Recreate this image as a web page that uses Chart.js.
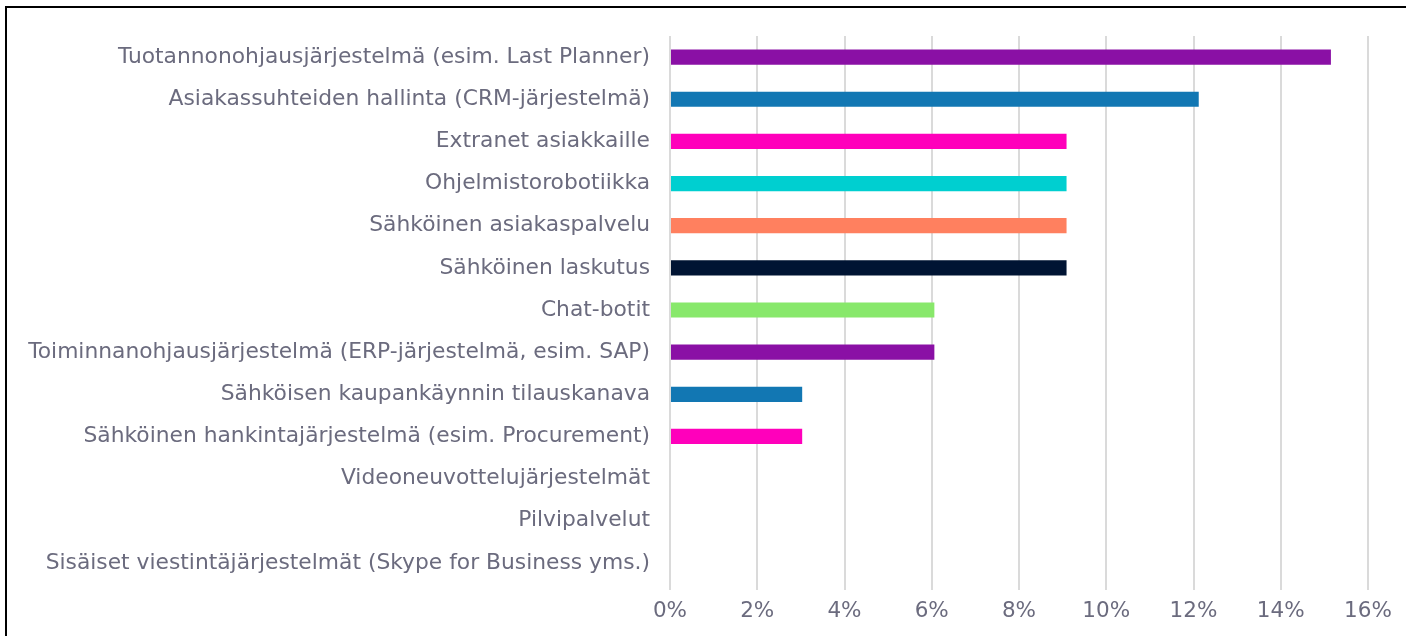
<!DOCTYPE html>
<html>
<head>
<meta charset="utf-8">
<script src="https://cdn.jsdelivr.net/npm/chart.js@4/dist/chart.umd.min.js"></script>
<style>
html,body{margin:0;padding:0;background:#fff;overflow:hidden;}
#wrap{position:relative;width:1406px;height:636px;}
#frame{position:absolute;left:5px;top:6px;width:1500px;height:700px;border:2px solid #000;box-sizing:border-box;pointer-events:none;}
canvas{position:absolute;left:0;top:0;}
</style>
</head>
<body>
<div id="wrap">
<canvas id="c" width="1406" height="636"></canvas>
<div id="frame"></div>
</div>
<script>
const categories = [
  "Tuotannonohjausjärjestelmä (esim. Last Planner)",
  "Asiakassuhteiden hallinta (CRM-järjestelmä)",
  "Extranet asiakkaille",
  "Ohjelmistorobotiikka",
  "Sähköinen asiakaspalvelu",
  "Sähköinen laskutus",
  "Chat-botit",
  "Toiminnanohjausjärjestelmä (ERP-järjestelmä, esim. SAP)",
  "Sähköisen kaupankäynnin tilauskanava",
  "Sähköinen hankintajärjestelmä (esim. Procurement)",
  "Videoneuvottelujärjestelmät",
  "Pilvipalvelut",
  "Sisäiset viestintäjärjestelmät (Skype for Business yms.)"
];
const values = [15.15, 12.12, 9.09, 9.09, 9.09, 9.09, 6.06, 6.06, 3.03, 3.03, 0, 0, 0];
const barColors = ["#8A10A5","#1277B3","#FF00BB","#00CFD0","#FF805F","#001433","#88E86B","#8A10A5","#1277B3","#FF00BB","#8A10A5","#1277B3","#FF00BB"];
const xTickValues = [0, 2, 4, 6, 8, 10, 12, 14, 16];

const textColor = "#6B6B7E";
const fontFam = "'DejaVu Sans', Verdana, sans-serif";

new Chart(document.getElementById('c'), {
  type: 'bar',
  data: {
    labels: categories,
    datasets: [{
      data: values,
      backgroundColor: barColors,
      barPercentage: 0.36,
      categoryPercentage: 1.0,
      borderWidth: 0
    }]
  },
  options: {
    indexAxis: 'y',
    responsive: false,
    animation: false,
    layout: { padding: { left: 0, right: 38, top: 36, bottom: 0 } },
    plugins: { legend: { display: false }, tooltip: { enabled: false } },
    scales: {
      x: {
        min: 0, max: 16,
        afterBuildTicks: (s) => { s.ticks = xTickValues.map(v => ({ value: v })); },
        grid: { color: "#DADADA", lineWidth: 2, drawTicks: true, tickLength: 6, tickColor: "#DADADA" },
        border: { display: false },
        ticks: {
          callback: (v) => v + "%",
          color: textColor,
          font: { family: fontFam, size: 21.5 },
          padding: 9,
          maxRotation: 0
        },
        afterFit: (s) => { s.height = 52; }
      },
      y: {
        grid: { display: false, drawTicks: false },
        border: { display: false },
        ticks: {
          color: textColor,
          font: { family: fontFam, size: 21.8 },
          padding: 20,
          autoSkip: false
        },
        afterFit: (s) => { s.width = 670; }
      }
    }
  }
});
</script>
</body>
</html>
